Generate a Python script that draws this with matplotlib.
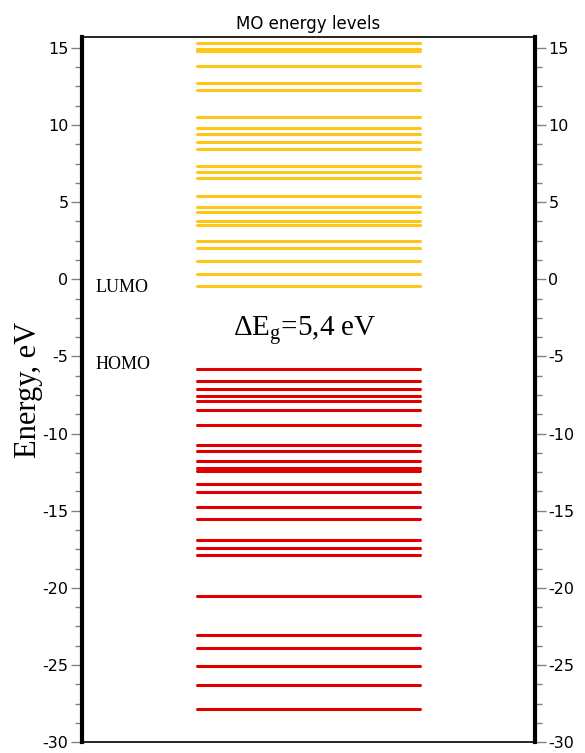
import numpy as np
from matplotlib import pyplot as plt
from matplotlib.ticker import MultipleLocator, AutoMinorLocator

plt.rcParams['axes.unicode_minus'] = False
plt.rcParams['mathtext.fontset'] = 'custom'
plt.rcParams['mathtext.rm'] = 'Liberation Serif'

# MO energies (eV)
unoccupied = [15.34, 14.95, 14.80, 13.86, 12.70, 12.27, 10.55, 9.82, 9.41, 8.87,
              8.44, 7.37, 6.94, 6.55, 5.37, 4.72, 4.37, 3.75, 3.54, 2.48,
              2.05, 1.21, 0.34, -0.42]
occupied = [-5.84, -6.59, -7.11, -7.54, -7.86, -8.48, -9.45, -10.72, -11.15,
            -11.77, -12.21, -12.40, -13.28, -13.82, -14.76, -15.54, -16.92,
            -17.43, -17.86, -20.53, -23.06, -23.92, -25.08, -26.27, -27.86]
gap_label = '\u0394E$_\\mathrm{g}$=5,4 eV'

fig = plt.figure(figsize=(5.85, 7.53), dpi=100)
ax = fig.add_axes([0.1397, 0.0145, 0.775, 0.9364])

ax.hlines(unoccupied, 0.254, 0.746, color='#ffc61a', lw=2.2, capstyle='round')
ax.hlines(occupied, 0.254, 0.746, color='#e00000', lw=2.2, capstyle='round')

ax.set_xlim(0, 1)
ax.set_ylim(-30, 15.71)
ax.set_xticks([])
ax.yaxis.set_major_locator(MultipleLocator(5))
ax.yaxis.set_minor_locator(AutoMinorLocator(4))
ax.tick_params(axis='y', which='both', left=True, right=True, labelleft=True,
               labelright=True, direction='out', color='#808080', width=1,
               labelsize=11.5, pad=1.5)
ax.tick_params(axis='y', which='major', length=8)
ax.tick_params(axis='y', which='minor', length=5)

for side in ('left', 'right'):
    ax.spines[side].set_linewidth(3)
for side in ('top', 'bottom'):
    ax.spines[side].set_linewidth(1.2)

ax.set_title('MO energy levels', fontsize=12, pad=6)
ax.set_ylabel('Energy, eV', family='Liberation Serif', fontsize=22)
ax.yaxis.set_label_coords(-0.085, 0.5)

serif = dict(family='Liberation Serif', va='center', ha='left')
ax.text(0.031, -0.55, 'LUMO', fontsize=13, **serif)
ax.text(0.031, -5.55, 'HOMO', fontsize=13, **serif)
ax.text(0.333, -3.35, gap_label, fontsize=21, **serif)

fig.savefig('out.png', dpi=100)
